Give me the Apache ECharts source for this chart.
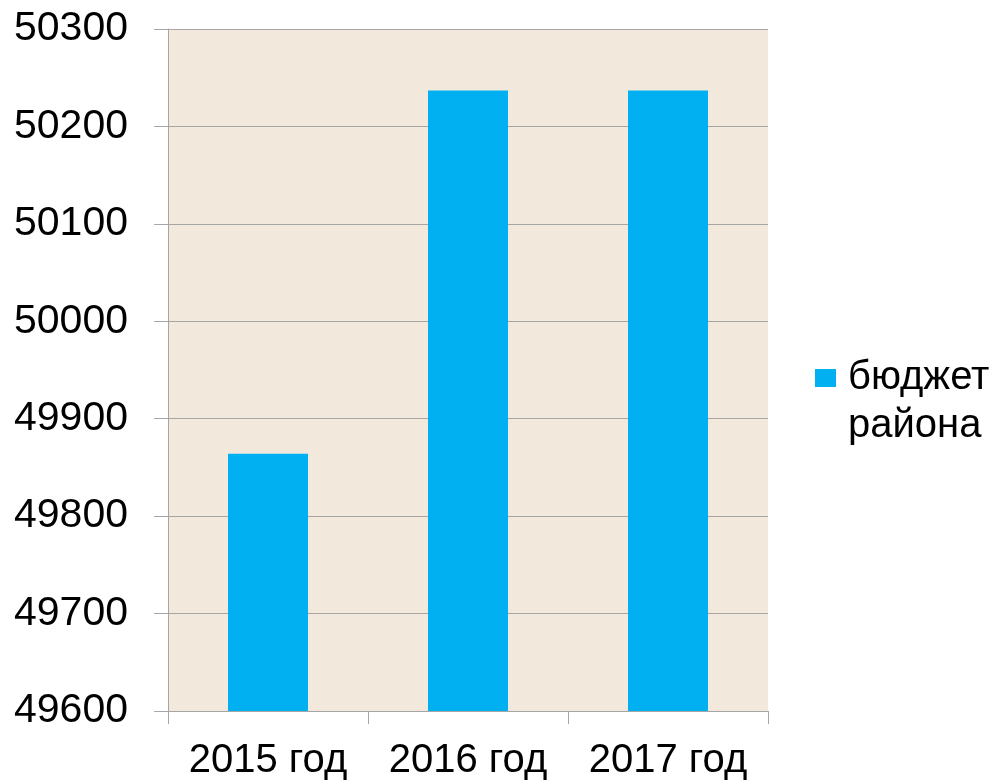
<!DOCTYPE html>
<html>
<head>
<meta charset="utf-8">
<script src="https://cdn.jsdelivr.net/npm/echarts@6/dist/echarts.min.js"></script>
<style>
html,body{margin:0;padding:0;background:#fff;}
#chart{width:995px;height:783px;}
</style>
</head>
<body>
<div id="chart"></div>
<script>
const categories = ['2015 год', '2016 год', '2017 год'];
const seriesName = 'бюджет района';
const values = [49864, 50237, 50237];
const yMin = 49600, yMax = 50300, yStep = 100;

const chart = echarts.init(document.getElementById('chart'), null, {renderer: 'canvas'});
const font = '"Liberation Sans", Arial, sans-serif';
chart.setOption({
  animation: false,
  backgroundColor: '#ffffff',
  grid: {
    left: 168, right: 227, top: 29, bottom: 72,
    show: true, backgroundColor: '#F2E8DC', borderWidth: 0
  },
  legend: {
    show: true,
    left: 810, top: 301,
    orient: 'vertical',
    itemWidth: 21, itemHeight: 18, itemGap: 10,
    icon: 'rect',
    formatter: function () { return '{t| }\n{t|бюджет}\n{t|района}'; },
    textStyle: {
      fontFamily: font, fontSize: 40, color: '#000',
      lineHeight: 48,
      rich: {t: {fontFamily: font, fontSize: 40, color: '#000', lineHeight: 48, padding: [0, 0, 0, 7]}}
    }
  },
  xAxis: {
    type: 'category',
    data: categories,
    axisLine: {show: true, lineStyle: {color: '#A6A6A6', width: 1}},
    axisTick: {show: true, length: 13, lineStyle: {color: '#A6A6A6'}},
    axisLabel: {fontFamily: font, fontSize: 40, color: '#000', margin: 30, interval: 0, hideOverlap: false}
  },
  yAxis: {
    type: 'value',
    min: yMin, max: yMax, interval: yStep,
    axisLine: {show: true, lineStyle: {color: '#A6A6A6', width: 1}},
    axisTick: {show: true, length: 14, lineStyle: {color: '#A6A6A6'}},
    splitLine: {show: true, lineStyle: {color: '#A6A6A6', width: 1}},
    axisLabel: {fontFamily: font, fontSize: 41, color: '#000', margin: 40,
      formatter: function (v) { return String(v); }}
  },
  series: [{
    name: seriesName,
    type: 'bar',
    data: values,
    barWidth: '40%',
    itemStyle: {color: '#00B0F0'}
  }]
});
</script>
</body>
</html>
